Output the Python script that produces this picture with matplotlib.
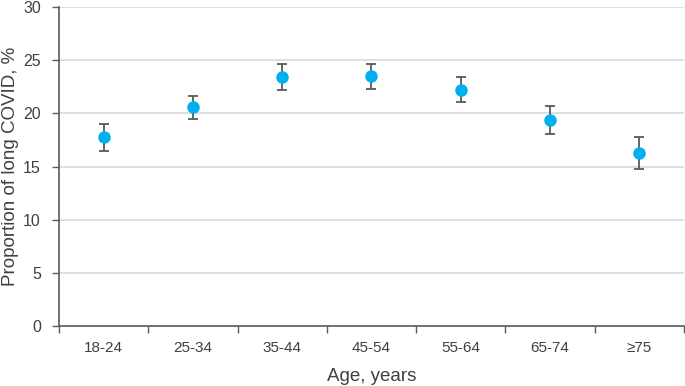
import matplotlib
matplotlib.use("Agg")
import matplotlib.pyplot as plt
import numpy as np

categories = ["18-24", "25-34", "35-44", "45-54", "55-64", "65-74", "\u226575"]
values = [17.8, 20.6, 23.4, 23.5, 22.2, 19.4, 16.3]
lower = [16.5, 19.5, 22.2, 22.3, 21.1, 18.1, 14.8]
upper = [19.0, 21.6, 24.6, 24.6, 23.4, 20.7, 17.8]
yticks = [0, 5, 10, 15, 20, 25, 30]

plt.rcParams['font.family'] = ['Liberation Sans', 'DejaVu Sans']
text_color = '#404040'

fig = plt.figure(figsize=(6.85, 3.86), dpi=100)
ax = fig.add_axes([0.0861, 0.1554, 0.9124, 0.8265])

x = np.arange(len(categories))
vals = np.array(values)
yerr = np.vstack([vals - np.array(lower), np.array(upper) - vals])
ax.errorbar(x, vals, yerr=yerr, fmt='o', color='#00B0F0', markersize=8,
            ecolor='#595959', elinewidth=1.3, capsize=3.5, capthick=1.3, zorder=3)

ax.set_xlim(-0.5, len(categories) - 0.5)
ax.set_ylim(0, 30)
ax.set_yticks(yticks)
ax.set_yticklabels([str(t) for t in yticks])
ax.set_xticks(x)
ax.set_xticklabels(categories)
ax.set_xticks(np.arange(-0.5, len(categories)), minor=True)
ax.tick_params(axis='x', which='major', length=0, pad=11, labelsize=11, labelcolor=text_color)
ax.tick_params(axis='x', which='minor', length=5, width=1, color='#595959')
ax.tick_params(axis='y', length=5, width=1, color='#595959', labelsize=11.5, labelcolor=text_color, pad=8)

for t in yticks[1:]:
    ax.axhline(t, color='#d9d9d9', linewidth=1.2, zorder=0)

for s in ['top', 'right']:
    ax.spines[s].set_visible(False)
for s in ['left', 'bottom']:
    ax.spines[s].set_color('#595959')
    ax.spines[s].set_linewidth(1.2)

ax.set_xlabel("Age, years", fontsize=13.5, color=text_color, labelpad=9)
ax.set_ylabel("Proportion of long COVID, %", fontsize=13.5, color=text_color)
ax.yaxis.set_label_coords(-0.064, 0.5)

fig.savefig("out.png", dpi=100)
